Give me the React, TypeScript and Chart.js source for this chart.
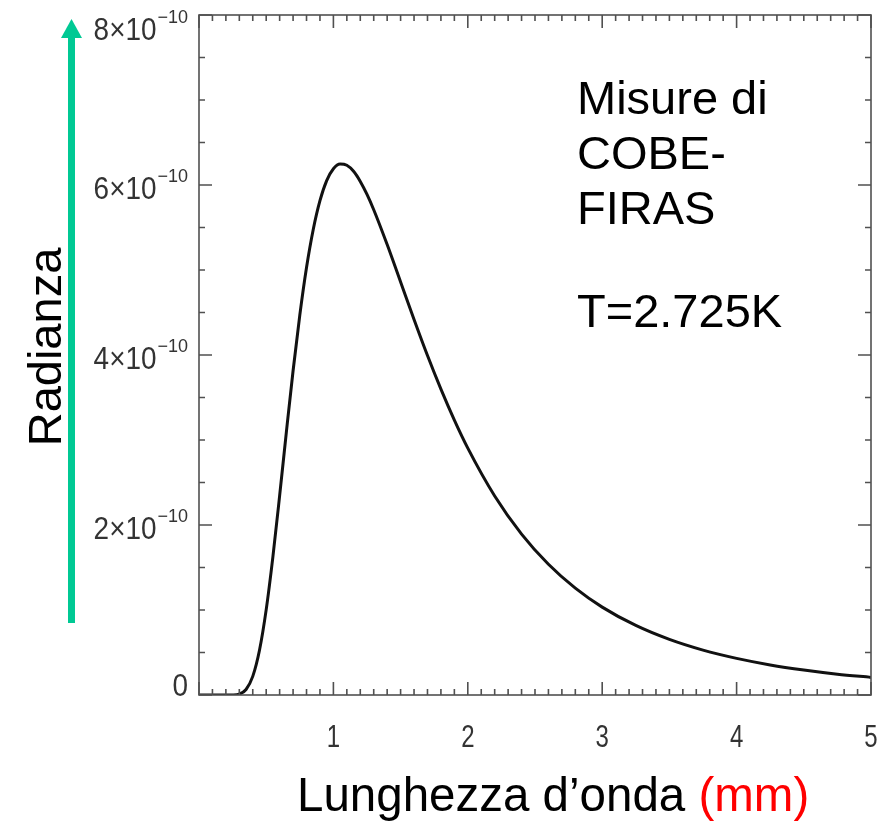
import React, { useEffect, useRef } from "react";
import { Chart, registerables } from "chart.js";

Chart.register(...registerables);

// Wavelength in mm
const wavelengthMm = [
  0, 0.1, 0.2, 0.25, 0.3, 0.35, 0.4, 0.45, 0.5, 0.55, 0.6, 0.65, 0.7, 0.75, 0.8, 0.85, 0.9, 0.95,
  1.0, 1.05, 1.1, 1.15, 1.2, 1.25, 1.3, 1.4, 1.5, 1.6, 1.7, 1.8, 1.9, 2.0, 2.2, 2.4, 2.6, 2.8,
  3.0, 3.25, 3.5, 3.75, 4.0, 4.25, 4.5, 4.75, 5.0,
];
// Radiance in units of 1e-10
const radiance = [
  0, 0, 0, 0.001, 0.011, 0.065, 0.219, 0.526, 1.004, 1.628, 2.345, 3.093, 3.815, 4.469, 5.029, 5.477, 5.816, 6.052,
  6.191, 6.247, 6.232, 6.161, 6.042, 5.889, 5.709, 5.299, 4.859, 4.418, 3.994, 3.599, 3.235, 2.905, 2.342, 1.893, 1.538, 1.257,
  1.034, 0.818, 0.654, 0.528, 0.431, 0.354, 0.294, 0.245, 0.207,
];

const xMin = 0;
const xMax = 5;
const yMin = 0;
const yMax = 8;
const xTickLabels = ["1", "2", "3", "4", "5"];
const xTickValues = [1, 2, 3, 4, 5];
const yTickMantissa = [0, 2, 4, 6, 8];
const yExponentLabel = "\u221210";
const xMinorStep = 0.1;
const xMajorStep = 1;
const yMinorStep = 0.5;
const yMajorStep = 2;

const yTitle = "Radianza";
const xTitleMain = "Lunghezza d\u2019onda ";
const xTitleUnit = "(mm)";
const noteLines = ["Misure di", "COBE-", "FIRAS"];
const noteTemp = "T=2.725K";

const SANS = '"Liberation Sans", Arial, Helvetica, sans-serif';

function condensedText(
  ctx: CanvasRenderingContext2D,
  text: string,
  x: number,
  y: number,
  align: "left" | "right" | "center",
  sx: number
) {
  const w = ctx.measureText(text).width * sx;
  let left = x;
  if (align === "right") left = x - w;
  else if (align === "center") left = x - w / 2;
  ctx.save();
  ctx.translate(left, y);
  ctx.scale(sx, 1);
  ctx.textAlign = "left";
  ctx.fillText(text, 0, 0);
  ctx.restore();
  return w;
}

const framePlugin = {
  id: "idlFrame",
  afterDatasetsDraw(chart: any) {
    const { ctx, chartArea: a, scales } = chart;
    const xs = scales.x;
    const ys = scales.y;
    ctx.save();
    ctx.strokeStyle = "#505050";
    ctx.lineWidth = 1.6;
    ctx.strokeRect(a.left, a.top, a.right - a.left, a.bottom - a.top);
    ctx.beginPath();
    const nx = Math.round((xMax - xMin) / xMinorStep);
    for (let i = 0; i <= nx; i++) {
      const v = xMin + i * xMinorStep;
      const px = xs.getPixelForValue(v);
      const major = Math.abs(v / xMajorStep - Math.round(v / xMajorStep)) < 1e-6;
      const len = major ? 13 : 6;
      ctx.moveTo(px, a.bottom);
      ctx.lineTo(px, a.bottom - len);
      ctx.moveTo(px, a.top);
      ctx.lineTo(px, a.top + len);
    }
    const ny = Math.round((yMax - yMin) / yMinorStep);
    for (let i = 0; i <= ny; i++) {
      const v = yMin + i * yMinorStep;
      const py = ys.getPixelForValue(v);
      const major = Math.abs(v / yMajorStep - Math.round(v / yMajorStep)) < 1e-6;
      const len = major ? 13 : 6;
      ctx.moveTo(a.left, py);
      ctx.lineTo(a.left + len, py);
      ctx.moveTo(a.right, py);
      ctx.lineTo(a.right - len, py);
    }
    ctx.stroke();
    ctx.restore();
  },
  afterDraw(chart: any) {
    const { ctx, chartArea: a, scales } = chart;
    const xs = scales.x;
    const ys = scales.y;
    ctx.save();
    // x tick labels
    ctx.fillStyle = "#333333";
    ctx.textBaseline = "alphabetic";
    ctx.font = `32px ${SANS}`;
    xTickValues.forEach((v, i) => {
      const px = xs.getPixelForValue(v);
      condensedText(ctx, xTickLabels[i], px, a.bottom + 52, "center", 0.75);
    });
    // y tick labels
    yTickMantissa.forEach((m) => {
      const py = ys.getPixelForValue(m);
      const cy = Math.min(Math.max(py + 3, a.top + 14), a.bottom - 10);
      const base = cy + 11;
      const right = a.left - 11;
      if (m === 0) {
        ctx.font = `31px ${SANS}`;
        condensedText(ctx, "0", right, base, "right", 0.9);
      } else {
        ctx.font = `18px ${SANS}`;
        const sw = condensedText(ctx, yExponentLabel, right, base - 17, "right", 1.0);
        ctx.font = `31px ${SANS}`;
        condensedText(ctx, `${m}\u00d710`, right - sw - 1, base, "right", 0.9);
      }
    });

    // green arrow
    const arrowX = 71.5;
    ctx.fillStyle = "#00c994";
    ctx.fillRect(arrowX - 3.5, 36, 7, 623 - 36);
    ctx.beginPath();
    ctx.moveTo(arrowX, 19);
    ctx.lineTo(arrowX + 10.5, 38);
    ctx.lineTo(arrowX - 10.5, 38);
    ctx.closePath();
    ctx.fill();

    // y title
    ctx.fillStyle = "#000000";
    ctx.font = `47px ${SANS}`;
    ctx.save();
    ctx.translate(61, 347);
    ctx.rotate(-Math.PI / 2);
    ctx.textAlign = "center";
    ctx.fillText(yTitle, 0, 0);
    ctx.restore();

    // x title
    ctx.textAlign = "left";
    ctx.font = `47.5px ${SANS}`;
    const tx = 297;
    const ty = 811;
    ctx.fillStyle = "#000000";
    ctx.fillText(xTitleMain, tx, ty);
    const w1 = ctx.measureText(xTitleMain).width;
    ctx.fillStyle = "#ff0000";
    ctx.fillText(xTitleUnit, tx + w1, ty);

    // annotation
    ctx.fillStyle = "#000000";
    ctx.font = `47px ${SANS}`;
    noteLines.forEach((line, i) => {
      ctx.fillText(line, 577, 114 + i * 55);
    });
    ctx.fillText(noteTemp, 577, 327);
    ctx.restore();
  },
};

export default function App() {
  const ref = useRef<HTMLCanvasElement | null>(null);
  useEffect(() => {
    document.body.style.margin = "0";
    document.body.style.overflow = "hidden";
    const canvas = ref.current;
    if (!canvas) return;
    const chart = new Chart(canvas, {
      type: "line",
      data: {
        datasets: [
          {
            data: wavelengthMm.map((x, i) => ({ x, y: radiance[i] })),
            borderColor: "#111111",
            borderWidth: 3,
            pointRadius: 0,
            fill: false,
            cubicInterpolationMode: "monotone",
          },
        ],
      },
      options: {
        responsive: false,
        animation: false,
        devicePixelRatio: 1,
        layout: { padding: { left: 199, right: 13, top: 15, bottom: 128 } },
        plugins: { legend: { display: false }, tooltip: { enabled: false } },
        scales: {
          x: { type: "linear", min: xMin, max: xMax, display: false },
          y: { type: "linear", min: yMin, max: yMax, display: false },
        },
      },
      plugins: [framePlugin],
    });
    return () => chart.destroy();
  }, []);
  return (
    <div style={{ width: 884, height: 823, background: "#ffffff" }}>
      <canvas ref={ref} width={884} height={823} style={{ display: "block", width: 884, height: 823 }} />
    </div>
  );
}
